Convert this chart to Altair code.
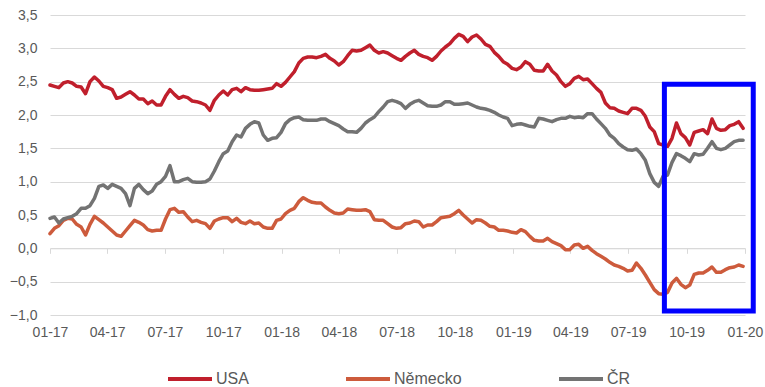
import altair as alt
import pandas as pd

# Weekly observations, first week of 2017 to last week of 2019
weeks = pd.date_range("2017-01-01", periods=157, freq="7D")

usa = [
    2.45, 2.43, 2.41, 2.48, 2.50, 2.48, 2.43, 2.42, 2.32, 2.50,
    2.57, 2.51, 2.43, 2.41, 2.38, 2.25, 2.27, 2.31, 2.35, 2.30,
    2.24, 2.24, 2.17, 2.21, 2.15, 2.15,
    2.28, 2.38, 2.31, 2.25, 2.28, 2.26, 2.21, 2.20, 2.18, 2.15,
    2.07, 2.22, 2.30, 2.36, 2.30, 2.38, 2.40, 2.35, 2.41, 2.38,
    2.37, 2.37, 2.38, 2.39, 2.40, 2.47, 2.43,
    2.49, 2.57, 2.65, 2.78, 2.85, 2.87, 2.87, 2.86, 2.88, 2.91,
    2.85, 2.81, 2.75, 2.80, 2.89, 2.97, 2.96, 2.97, 3.01, 3.05,
    2.97, 2.93, 2.95, 2.93, 2.89, 2.85, 2.82,
    2.88, 2.93, 2.97, 2.91, 2.88, 2.86, 2.82, 2.88, 2.96, 3.02,
    3.07, 3.15, 3.21, 3.18, 3.10, 3.17, 3.20, 3.14, 3.06, 3.03,
    2.94, 2.88, 2.80, 2.76, 2.70, 2.68, 2.72,
    2.80, 2.76, 2.67, 2.66, 2.66, 2.76, 2.66, 2.60, 2.50, 2.43,
    2.47, 2.55, 2.58, 2.53, 2.54, 2.47, 2.40, 2.34, 2.18, 2.11,
    2.10, 2.06, 2.04, 2.02, 2.10, 2.10, 2.07,
    1.98, 1.82, 1.75, 1.57, 1.55, 1.53, 1.65, 1.88, 1.72, 1.66,
    1.55, 1.74, 1.76, 1.78, 1.72, 1.94, 1.80, 1.77, 1.78, 1.84,
    1.86, 1.90, 1.80,
]

nemecko = [
    0.22, 0.30, 0.34, 0.42, 0.45, 0.44, 0.36, 0.32, 0.20, 0.36,
    0.48, 0.43, 0.38, 0.32, 0.26, 0.20, 0.18, 0.26, 0.34, 0.42,
    0.39, 0.35, 0.28, 0.26, 0.27, 0.27,
    0.44, 0.58, 0.60, 0.54, 0.55, 0.47, 0.40, 0.42, 0.39, 0.37,
    0.30, 0.41, 0.44, 0.46, 0.46, 0.40, 0.45, 0.39, 0.37, 0.41,
    0.37, 0.38, 0.32, 0.30, 0.30, 0.42, 0.44,
    0.52, 0.57, 0.60, 0.70, 0.76, 0.72, 0.69, 0.68, 0.68, 0.62,
    0.57, 0.53, 0.52, 0.53, 0.59, 0.58, 0.57, 0.57, 0.58, 0.55,
    0.43, 0.42, 0.42, 0.37, 0.32, 0.30, 0.31,
    0.37, 0.38, 0.41, 0.40, 0.32, 0.35, 0.35, 0.40, 0.46, 0.47,
    0.48, 0.52, 0.57, 0.50, 0.44, 0.38, 0.43, 0.42, 0.38, 0.33,
    0.32, 0.27, 0.27, 0.26, 0.24, 0.23, 0.28,
    0.25, 0.18, 0.12, 0.11, 0.11, 0.15, 0.10, 0.07, 0.04, -0.02,
    -0.02, 0.05, 0.06, 0.00, 0.03, -0.03, -0.08, -0.12, -0.16, -0.21,
    -0.25, -0.27, -0.30, -0.34, -0.33, -0.22, -0.30,
    -0.40, -0.51, -0.62, -0.68, -0.69, -0.66, -0.52, -0.45, -0.54, -0.59,
    -0.55, -0.39, -0.37, -0.37, -0.33, -0.28, -0.36, -0.36, -0.32, -0.29,
    -0.28, -0.25, -0.27,
]

cr = [
    0.45, 0.47, 0.38, 0.44, 0.46, 0.48, 0.52, 0.60, 0.60, 0.64,
    0.75, 0.93, 0.95, 0.90, 0.96, 0.93, 0.90, 0.82, 0.64, 0.90,
    0.96, 0.88, 0.82, 0.86, 0.96, 1.00,
    1.08, 1.24, 1.00, 1.00, 1.03, 1.05, 1.00, 0.99, 0.99, 1.00,
    1.04, 1.16, 1.30, 1.42, 1.46, 1.60, 1.70, 1.67, 1.80, 1.86,
    1.90, 1.88, 1.70, 1.62, 1.65, 1.66, 1.74,
    1.87, 1.93, 1.96, 1.97, 1.93, 1.92, 1.92, 1.92, 1.94, 1.94,
    1.90, 1.87, 1.84, 1.79, 1.75, 1.75, 1.74, 1.80, 1.88, 1.93,
    1.97, 2.05, 2.12, 2.20, 2.22, 2.20, 2.17,
    2.10, 2.16, 2.20, 2.22, 2.18, 2.14, 2.13, 2.13, 2.15, 2.20,
    2.20, 2.16, 2.16, 2.17, 2.18, 2.15, 2.12, 2.10, 2.09, 2.07,
    2.04, 2.00, 1.97, 1.95, 1.84, 1.86, 1.87,
    1.85, 1.83, 1.82, 1.95, 1.94, 1.92, 1.90, 1.93, 1.95, 1.95,
    1.98, 1.96, 1.97, 1.96, 2.02, 2.02, 1.94, 1.87, 1.80, 1.70,
    1.65, 1.57, 1.52, 1.48, 1.47, 1.49, 1.42,
    1.32, 1.12, 0.99, 0.93, 1.08, 1.10, 1.29, 1.42, 1.39, 1.35,
    1.30, 1.42, 1.40, 1.41, 1.50, 1.60, 1.50, 1.48, 1.50, 1.55,
    1.60, 1.62, 1.62,
]

series_names = ["USA", "Německo", "ČR"]
series_colors = ["#C01F2C", "#CD5B3C", "#737373"]

# Highlighted recent period (box drawn around it)
highlight_from = ["2019-08-27"]
highlight_to = ["2020-01-14"]
highlight_low = [-0.94]
highlight_high = [2.46]

y_ticks = [-1.0, -0.5, 0.0, 0.5, 1.0, 1.5, 2.0, 2.5, 3.0, 3.5]
quarter_ticks = [
    alt.DateTime(year=y, month=m, date=1)
    for y in (2017, 2018, 2019)
    for m in (1, 4, 7, 10)
] + [alt.DateTime(year=2020, month=1, date=1)]

FONT = "Liberation Sans"
TEXT = "#595959"
GRID = "#D9D9D9"

lines_df = pd.DataFrame({
    "datum": list(weeks) * 3,
    "serie": [s for s, vals in zip(series_names, (usa, nemecko, cr)) for _ in vals],
    "hodnota": usa + nemecko + cr,
})

box_df = pd.DataFrame({
    "od": pd.to_datetime(highlight_from),
    "do": pd.to_datetime(highlight_to),
    "dole": highlight_low,
    "nahore": highlight_high,
})

x_scale = alt.Scale(domain=[alt.DateTime(year=2017, month=1, date=1),
                            alt.DateTime(year=2020, month=1, date=1)])
y_scale = alt.Scale(domain=[-1.0, 3.5], nice=False, zero=False)

y_axis = alt.Axis(
    values=y_ticks,
    labelExpr="replace(format(datum.value, '.1f'), '.', ',')",
    grid=True, gridColor=GRID, gridWidth=1,
    domain=False, ticks=False,
    labelFont=FONT, labelFontSize=14, labelColor=TEXT, labelPadding=13,
    title=None,
)

lines = alt.Chart(lines_df).mark_line(
    strokeWidth=3.5, strokeJoin="round", strokeCap="round"
).encode(
    x=alt.X("datum:T", scale=x_scale, axis=alt.Axis(
        values=quarter_ticks, format="%m-%y", orient="bottom",
        grid=False, domain=False, ticks=False,
        labelFont=FONT, labelFontSize=14, labelColor=TEXT, labelPadding=10,
        labelFlush=False, title=None,
    )),
    y=alt.Y("hodnota:Q", scale=y_scale, axis=y_axis),
    color=alt.Color("serie:N",
                    scale=alt.Scale(domain=series_names, range=series_colors),
                    legend=alt.Legend(
                        orient="none", legendX=116, legendY=340,
                        direction="horizontal", title=None,
                        symbolType="stroke", symbolSize=1936,
                        symbolStrokeWidth=4,
                        labelFont=FONT, labelFontSize=16, labelColor=TEXT,
                        labelOffset=2, columnPadding=89, padding=0,
                    )),
)

# Zero line with quarter tick marks, plus the highlight box
box = alt.Chart(box_df).mark_rect(
    fillOpacity=0, stroke="#0000FF", strokeWidth=5, clip=False
).encode(
    x=alt.X("od:T", scale=x_scale, axis=alt.Axis(
        values=quarter_ticks, orient="bottom", offset=-66.7,
        labels=False, grid=False, domain=True, domainColor=GRID,
        ticks=True, tickSize=5, tickColor=GRID, title=None,
    )),
    x2="do:T",
    y=alt.Y("dole:Q", scale=y_scale, axis=y_axis),
    y2="nahore:Q",
)

chart = alt.layer(lines, box).resolve_axis(x="independent").properties(
    width=695,
    height=300,
    padding={"left": 50, "top": 15, "right": 20, "bottom": 72},
    autosize=alt.AutoSizeParams(type="none"),
).configure_view(stroke=None)

chart.save("out.html", embed_options={"renderer": "svg", "actions": False})
